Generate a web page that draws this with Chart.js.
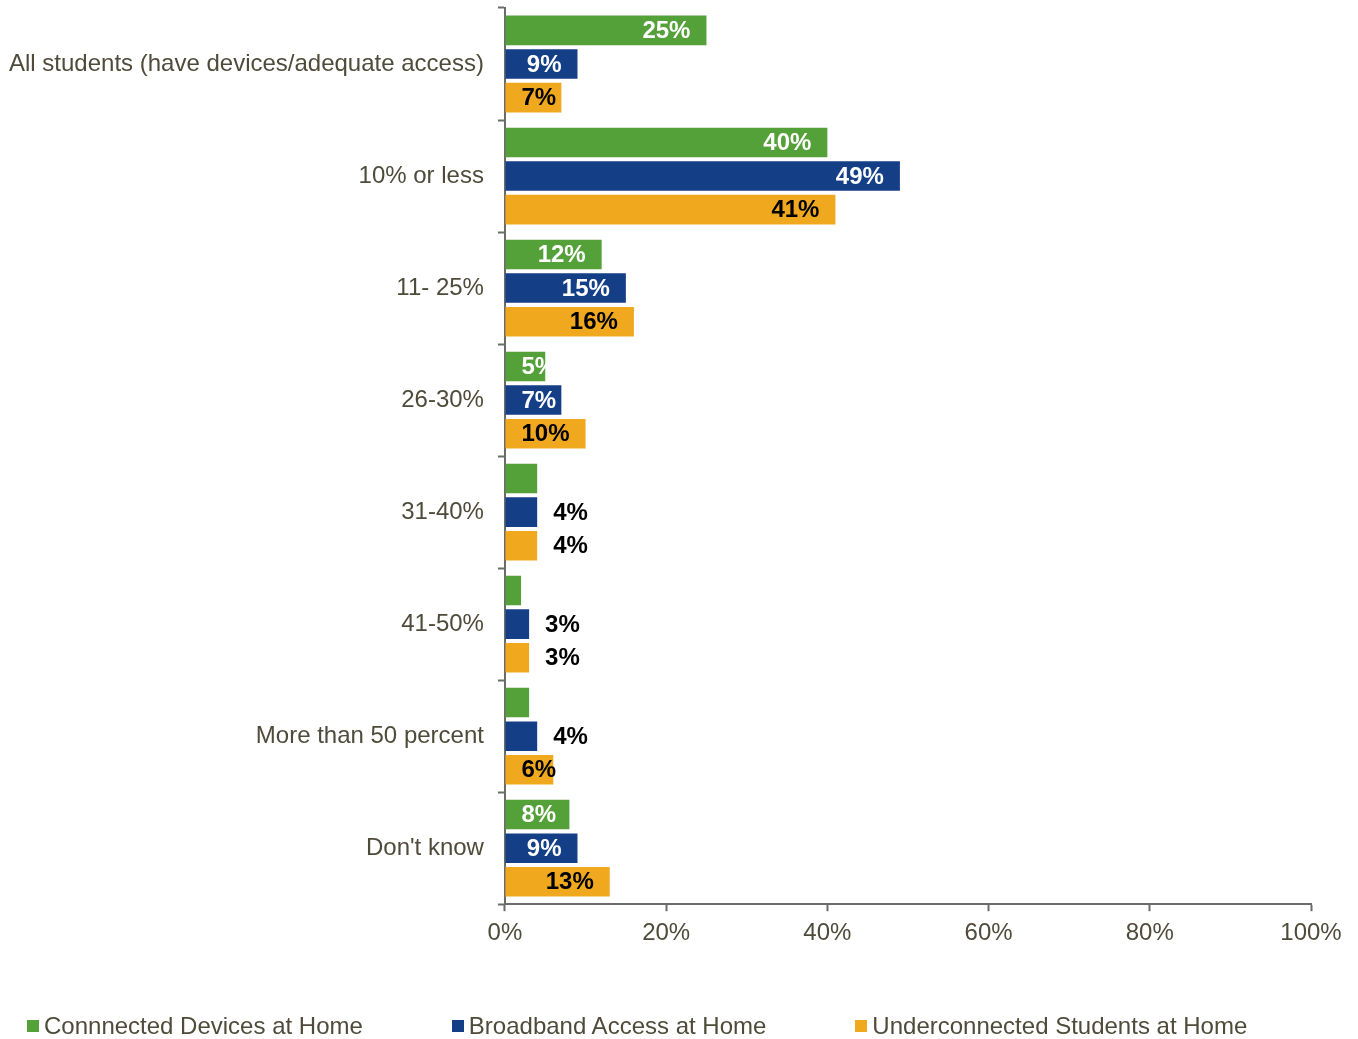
<!DOCTYPE html>
<html>
<head>
<meta charset="utf-8">
<script src="https://cdn.jsdelivr.net/npm/chart.js@4/dist/chart.umd.min.js"></script>
<style>
  html, body { margin: 0; padding: 0; background: #fff; }
  #wrap { position: relative; width: 1358px; height: 1039px; }
  #legend {
    position: absolute; left: 27px; top: 1012px;
    display: flex; gap: 89px;
    font: 24px/28px "Liberation Sans", Arial, sans-serif; color: #4f4b3a;
    white-space: nowrap;
  }
  #legend .item { display: flex; align-items: center; }
  #legend .box { width: 12px; height: 12px; margin-right: 5px; }
</style>
</head>
<body>
<div id="wrap">
  <canvas id="chart"></canvas>
  <div id="legend"></div>
</div>
<script>
// Share of students, by category of home connectivity
const categories = [
  'All students (have devices/adequate access)',
  '10% or less',
  '11- 25%',
  '26-30%',
  '31-40%',
  '41-50%',
  'More than 50 percent',
  "Don't know"
];
const connectedDevices = [25, 40, 12, 5, 4, 2, 3, 8];
const broadbandAccess = [9, 49, 15, 7, 4, 3, 4, 9];
const underconnected = [7, 41, 16, 10, 4, 3, 6, 13];
const xTicks = [0, 20, 40, 60, 80, 100];

const textColor = '#4f4b3a';
const axisColor = '#6b6b6b';
const fontFamily = '"Liberation Sans", Arial, sans-serif';

// value labels: inside the bar end when big enough, otherwise just past it
const barLabels = {
  id: 'barLabels',
  afterDatasetsDraw(chart) {
    const ctx = chart.ctx;
    ctx.save();
    ctx.font = 'bold 24px ' + fontFamily;
    ctx.textBaseline = 'middle';
    ctx.textAlign = 'left';
    chart.data.datasets.forEach((ds, i) => {
      const meta = chart.getDatasetMeta(i);
      meta.data.forEach((bar, j) => {
        const v = ds.data[j];
        const txt = v + '%';
        const w = ctx.measureText(txt).width;
        if (v >= 5) {
          ctx.fillStyle = ds.labelColor;
          ctx.fillText(txt, Math.max(bar.base + 16, bar.x - 16 - w), bar.y + 1);
        } else if (ds.showSmall) {
          ctx.fillStyle = '#000';
          ctx.fillText(txt, bar.x + 16, bar.y + 1);
        }
      });
    });
    ctx.restore();
  }
};

// no extra room for tick labels hanging past the ends of an axis
const noOverhang = s => {
  s.paddingTop = 0;
  s.paddingBottom = 0;
  s.paddingLeft = 0;
  s.paddingRight = 0;
};

const chart = new Chart(document.getElementById('chart'), {
  type: 'bar',
  data: {
    labels: categories,
    datasets: [
      {
        label: 'Connnected Devices at Home',
        data: connectedDevices,
        backgroundColor: '#54a13a',
        labelColor: '#fff',
        showSmall: false
      },
      {
        label: 'Broadband Access at Home',
        data: broadbandAccess,
        backgroundColor: '#143f87',
        labelColor: '#fff',
        showSmall: true
      },
      {
        label: 'Underconnected Students at Home',
        data: underconnected,
        backgroundColor: '#f0a91f',
        labelColor: '#000',
        showSmall: true
      }
    ]
  },
  options: {
    indexAxis: 'y',
    responsive: true,
    maintainAspectRatio: false,
    animation: false,
    barPercentage: 0.88,
    categoryPercentage: 0.9,
    layout: { padding: { left: -5, right: 47, top: 8, bottom: 83 } },
    scales: {
      x: {
        min: 0,
        max: 100,
        afterBuildTicks(scale) {
          scale.ticks = xTicks.map(v => ({ value: v }));
        },
        afterFit: noOverhang,
        grid: {
          drawOnChartArea: false,
          tickLength: 7,
          tickWidth: 2,
          color: axisColor
        },
        border: { color: axisColor, width: 2 },
        ticks: {
          padding: 8,
          color: textColor,
          font: { size: 24, family: fontFamily },
          callback: v => v + '%'
        }
      },
      y: {
        afterFit: noOverhang,
        grid: {
          offset: true,
          drawOnChartArea: false,
          tickLength: 7,
          tickWidth: 2,
          color: axisColor
        },
        border: { color: axisColor, width: 2 },
        ticks: {
          padding: 14,
          color: textColor,
          font: { size: 24, family: fontFamily }
        }
      }
    },
    plugins: {
      legend: { display: false },
      tooltip: { enabled: false }
    }
  },
  plugins: [barLabels]
});

// legend row under the plot, built from the datasets
const legendEl = document.getElementById('legend');
chart.data.datasets.forEach(ds => {
  const item = document.createElement('div');
  item.className = 'item';
  const box = document.createElement('span');
  box.className = 'box';
  box.style.background = ds.backgroundColor;
  const txt = document.createElement('span');
  txt.textContent = ds.label;
  item.appendChild(box);
  item.appendChild(txt);
  legendEl.appendChild(item);
});
</script>
</body>
</html>
